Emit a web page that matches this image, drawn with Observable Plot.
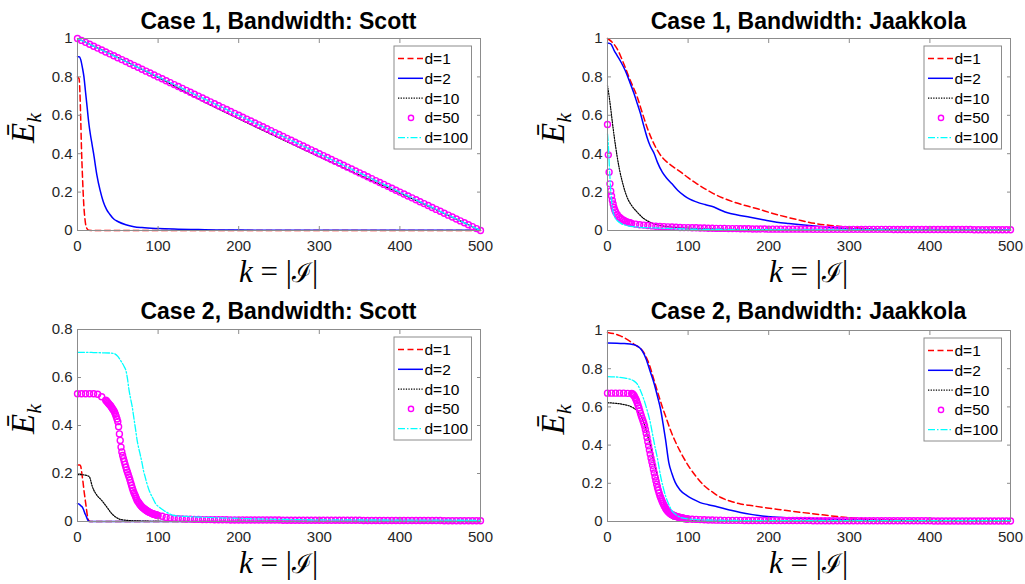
<!DOCTYPE html>
<html>
<head>
<meta charset="utf-8">
<script src="https://cdn.jsdelivr.net/npm/d3@7"></script>
<script src="https://cdn.jsdelivr.net/npm/@observablehq/plot@0.6"></script>
<style>
  body { margin: 0; background: #fff; }
  #fig { position: relative; width: 1025px; height: 584px; background: #fff; overflow: hidden; }
  .panel { position: absolute; }
</style>
</head>
<body>
<div id="fig"></div>
<script>
// ---------- labels ----------
const titles = [
  "Case 1, Bandwidth: Scott",
  "Case 1, Bandwidth: Jaakkola",
  "Case 2, Bandwidth: Scott",
  "Case 2, Bandwidth: Jaakkola"
];
const seriesNames = ["d=1", "d=2", "d=10", "d=50", "d=100"];
const xTicks = [0, 100, 200, 300, 400, 500];
const yTicksUnit = [0, 0.2, 0.4, 0.6, 0.8, 1];
const yTicksCase2Scott = [0, 0.2, 0.4, 0.6, 0.8];

// ---------- Case 1, Scott : [k, E_k] ----------
const c1ScottD1 = [[0,0.8],[2,0.79],[3,0.72],[4,0.58],[5,0.42],[6,0.3],[7,0.2],[8,0.12],[9,0.07],[10,0.035],[12,0.008],[14,0.001],[20,0],[100,0],[200,0],[300,0],[400,0],[500,0]];
const c1ScottD2 = [[0,0.905],[2,0.905],[4,0.89],[6,0.85],[8,0.8],[10,0.72],[12,0.64],[14,0.56],[16,0.5],[18,0.45],[20,0.4],[24,0.29],[28,0.21],[32,0.15],[36,0.11],[40,0.085],[45,0.06],[50,0.047],[60,0.03],[70,0.02],[80,0.015],[100,0.01],[125,0.007],[150,0.005],[200,0.002],[300,0.001],[400,0.001],[500,0.001]];
const c1ScottD10 = [[0,1],[100,0.797],[150,0.685],[200,0.582],[250,0.482],[300,0.384],[350,0.288],[400,0.194],[450,0.098],[500,0]];
const c1ScottD100 = [[0,1],[500,0]];
const c1ScottD50k = d3.range(0, 501, 5);
const c1ScottD50 = [
  1.00,0.99,0.98,0.97,0.96,0.95,0.94,0.93,0.92,0.91,
  0.90,0.89,0.88,0.87,0.86,0.85,0.84,0.83,0.82,0.81,
  0.80,0.79,0.78,0.77,0.76,0.75,0.74,0.73,0.72,0.71,
  0.70,0.69,0.68,0.67,0.66,0.65,0.64,0.63,0.62,0.61,
  0.60,0.59,0.58,0.57,0.56,0.55,0.54,0.53,0.52,0.51,
  0.50,0.49,0.48,0.47,0.46,0.45,0.44,0.43,0.42,0.41,
  0.40,0.39,0.38,0.37,0.36,0.35,0.34,0.33,0.32,0.31,
  0.30,0.29,0.28,0.27,0.26,0.25,0.24,0.23,0.22,0.21,
  0.20,0.19,0.18,0.17,0.16,0.15,0.14,0.13,0.12,0.11,
  0.10,0.09,0.08,0.07,0.06,0.05,0.04,0.03,0.02,0.01,
  0.00
];

// ---------- Case 1, Jaakkola ----------
const c1JaakD1 = [[0,1],[6,0.98],[12,0.946],[20,0.87],[28,0.785],[37,0.694],[43,0.615],[49,0.538],[55,0.475],[62,0.417],[68,0.38],[74,0.356],[82,0.33],[91,0.304],[100,0.275],[111,0.243],[121,0.217],[132,0.191],[144,0.168],[157,0.148],[171,0.13],[186,0.113],[204,0.09],[223,0.069],[240,0.052],[260,0.035],[280,0.025],[300,0.017],[320,0.01],[345,0.005],[400,0.003],[500,0.003]];
const c1JaakD2 = [[0,0.977],[4,0.972],[8,0.94],[12,0.911],[17,0.875],[22,0.833],[27,0.78],[33,0.712],[37,0.66],[41,0.608],[45,0.545],[49,0.486],[53,0.44],[58,0.4],[62,0.355],[68,0.304],[73,0.275],[80,0.243],[87,0.21],[95,0.182],[102,0.163],[111,0.148],[121,0.135],[132,0.122],[140,0.107],[149,0.092],[160,0.082],[177,0.069],[193,0.056],[210,0.043],[225,0.036],[240,0.03],[264,0.021],[290,0.012],[320,0.006],[400,0.003],[500,0.002]];
const c1JaakD10 = [[0,0.755],[2,0.7],[4,0.635],[6,0.565],[8,0.5],[10,0.44],[12,0.385],[15,0.315],[18,0.26],[22,0.2],[26,0.157],[30,0.13],[37,0.095],[45,0.062],[53,0.043],[66,0.026],[80,0.018],[100,0.012],[130,0.008],[170,0.005],[220,0.003],[300,0.001],[500,0]];
const c1JaakD100 = [[0,0.503],[1,0.45],[2,0.36],[3,0.28],[4,0.21],[5,0.16],[6,0.12],[7,0.095],[9,0.07],[12,0.052],[17,0.036],[24,0.026],[35,0.019],[53,0.014],[80,0.01],[120,0.006],[200,0.004],[300,0.003],[500,0.002]];
const c1JaakD50k = [...d3.range(0, 11, 1), ...d3.range(12, 31, 2), ...d3.range(35, 501, 5)];
const c1JaakD50 = [
  0.552,0.394,0.304,0.243,0.205,0.18,0.157,0.138,0.12,0.107,0.097,
  0.083,0.072,0.065,0.058,0.053,0.049,0.045,0.042,0.04,0.037,
  0.033,0.03,0.028,0.026,0.024,0.022,0.021,0.02,0.019,0.018,
  0.017,0.016,0.015,0.015,0.014,0.014,0.013,0.013,0.012,0.012,
  0.011,0.011,0.011,0.01,
  0.01,0.01,0.009,0.009,0.009,0.008,0.008,0.008,0.008,0.007,
  0.007,0.007,0.007,0.007,0.007,0.007,0.007,0.007,0.007,0.007,
  0.006,0.006,0.006,0.006,0.006,0.006,0.006,0.006,0.006,0.006,
  0.006,0.006,0.006,0.006,0.006,0.006,0.006,0.006,0.006,0.006,
  0.005,0.005,0.005,0.005,0.005,0.005,0.005,0.005,0.005,0.005,
  0.005,0.005,0.005,0.005,0.005,0.005,0.005,0.005,0.005,0.005,
  0.004,0.004,0.004,0.004,0.004,0.004,0.004,0.004,0.004,0.004
];

// ---------- Case 2, Scott ----------
const c2ScottD1 = [[0,0.235],[3,0.235],[4,0.23],[5,0.21],[6,0.185],[7,0.16],[8,0.13],[9,0.105],[10,0.08],[11,0.055],[12,0.03],[13,0.012],[14,0.004],[15,0.001],[16,0],[100,0],[200,0],[300,0],[400,0],[500,0]];
const c2ScottD2 = [[0,0.075],[2,0.072],[4,0.066],[6,0.06],[7,0.053],[8,0.045],[9,0.035],[10,0.028],[11,0.02],[12,0.012],[13,0.005],[14,0.001],[15,0],[100,0],[200,0],[300,0],[400,0],[500,0]];
const c2ScottD10 = [[0,0.195],[5,0.195],[10,0.193],[13,0.19],[15,0.185],[16,0.175],[18,0.15],[20,0.132],[22,0.12],[25,0.105],[28,0.095],[30,0.088],[33,0.075],[36,0.062],[39,0.048],[42,0.035],[45,0.025],[48,0.017],[52,0.01],[58,0.006],[65,0.004],[80,0.002],[110,0],[500,0]];
const c2ScottD100 = [[0,0.705],[10,0.705],[20,0.704],[30,0.703],[40,0.702],[45,0.7],[50,0.688],[54,0.668],[58,0.645],[60,0.63],[62,0.595],[64,0.546],[66,0.51],[68,0.476],[70,0.43],[72,0.385],[74,0.338],[76,0.305],[78,0.276],[80,0.245],[82,0.21],[84,0.185],[86,0.16],[88,0.138],[90,0.12],[93,0.1],[97,0.074],[102,0.058],[107,0.046],[113,0.034],[120,0.025],[135,0.021],[153,0.018],[200,0.013],[235,0.01],[300,0.007],[400,0.006],[500,0.005]];
const c2ScottD50k = [...d3.range(0, 36, 5), ...d3.range(36, 101, 1), ...d3.range(105, 501, 5)];
const c2ScottD50 = [
  0.532,0.532,0.532,0.532,0.532,0.53,0.52,0.505,
  0.502,0.498,0.494,0.49,0.486,0.482,0.477,0.472,0.467,0.462,
  0.455,0.447,0.438,0.427,0.416,0.395,0.365,0.338,0.31,0.29,
  0.275,0.262,0.25,0.238,0.226,0.215,0.205,0.195,0.185,0.174,
  0.162,0.151,0.14,0.129,0.12,0.112,0.104,0.096,0.088,0.083,
  0.078,0.073,0.069,0.065,0.061,0.058,0.055,0.052,0.05,0.047,
  0.045,0.043,0.041,0.039,0.037,0.036,0.034,0.032,0.031,0.03,
  0.029,0.028,0.027,0.026,0.025,
  0.022,0.017,0.015,0.013,0.012,0.011,0.01,0.01,0.009,0.009,
  0.008,0.008,0.008,0.007,0.007,0.007,0.007,0.006,0.006,0.006,
  0.006,0.006,0.006,0.006,0.006,0.006,0.006,0.006,0.006,0.006,
  0.005,0.005,0.005,0.005,0.005,0.005,0.005,0.005,0.005,0.005,
  0.005,0.005,0.005,0.005,0.005,0.005,0.005,0.005,0.005,0.005,
  0.004,0.004,0.004,0.004,0.004,0.004,0.004,0.004,0.004,0.004,
  0.004,0.004,0.004,0.004,0.004,0.004,0.004,0.004,0.004,0.004,
  0.003,0.003,0.003,0.003,0.003,0.003,0.003,0.003,0.003,0.003
];

// ---------- Case 2, Jaakkola ----------
const c2JaakD1 = [[0,0.99],[16,0.972],[33,0.928],[45,0.885],[52,0.82],[57,0.75],[62,0.68],[68,0.6],[73,0.54],[78,0.48],[84,0.42],[91,0.36],[97,0.315],[103,0.275],[111,0.23],[120,0.187],[130,0.155],[140,0.127],[152,0.107],[165,0.092],[180,0.082],[198,0.071],[220,0.059],[240,0.048],[264,0.036],[290,0.024],[310,0.017],[330,0.011],[400,0.005],[500,0.003]];
const c2JaakD2 = [[0,0.935],[20,0.932],[33,0.925],[43,0.894],[48,0.85],[53,0.785],[58,0.72],[62,0.655],[66,0.585],[69,0.51],[72,0.43],[76,0.31],[80,0.25],[84,0.205],[90,0.165],[99,0.134],[107,0.115],[115,0.099],[125,0.088],[136,0.077],[150,0.062],[165,0.047],[180,0.036],[198,0.026],[220,0.02],[240,0.017],[300,0.009],[400,0.004],[500,0.003]];
const c2JaakD10 = [[0,0.622],[24,0.609],[32,0.595],[37,0.579],[41,0.555],[45,0.518],[49,0.46],[53,0.4],[56,0.345],[59,0.29],[62,0.24],[66,0.169],[69,0.115],[72,0.065],[75,0.04],[78,0.022],[85,0.01],[100,0.004],[150,0.002],[500,0.002]];
const c2JaakD100 = [[0,0.759],[20,0.752],[28,0.745],[33,0.735],[37,0.719],[41,0.685],[45,0.64],[49,0.585],[53,0.52],[56,0.455],[59,0.39],[62,0.33],[66,0.235],[69,0.18],[72,0.134],[76,0.09],[80,0.056],[85,0.035],[91,0.021],[100,0.014],[115,0.009],[150,0.006],[200,0.004],[500,0.004]];
const c2JaakD50k = [...d3.range(0, 31, 5), ...d3.range(31, 101, 1), ...d3.range(105, 501, 5)];
const c2JaakD50 = [
  0.672,0.672,0.672,0.672,0.672,0.671,0.67,
  0.668,0.664,0.658,0.65,0.641,0.632,0.62,0.607,0.594,0.58,
  0.566,0.553,0.54,0.528,0.515,0.5,0.482,0.462,0.44,0.418,
  0.396,0.375,0.353,0.332,0.313,0.294,0.274,0.254,0.233,0.213,
  0.195,0.178,0.163,0.149,0.135,0.125,0.114,0.104,0.094,0.085,
  0.077,0.07,0.063,0.057,0.052,0.048,0.044,0.041,0.038,0.036,
  0.034,0.032,0.03,0.028,0.027,0.026,0.024,0.023,0.022,0.021,
  0.02,0.019,0.018,0.017,0.016,0.015,0.014,0.014,0.013,0.013,
  0.012,0.011,0.01,0.009,0.008,0.008,0.007,0.007,0.006,0.006,
  0.006,0.006,0.006,0.005,0.005,0.005,0.005,0.005,0.005,0.005,
  0.005,0.005,0.005,0.005,0.005,0.005,0.005,0.005,0.005,0.005,
  0.004,0.004,0.004,0.004,0.004,0.004,0.004,0.004,0.004,0.004,
  0.004,0.004,0.004,0.004,0.004,0.004,0.004,0.004,0.004,0.004,
  0.004,0.004,0.004,0.004,0.004,0.004,0.004,0.004,0.004,0.004,
  0.003,0.003,0.003,0.003,0.003,0.003,0.003,0.003,0.003,0.003,
  0.003,0.003,0.003,0.003,0.003,0.003,0.003,0.003,0.003,0.003
];

// ---------- styling ----------
const lineStyles = [
  {stroke: "#ff0000", strokeWidth: 1.5, strokeDasharray: "6,3.5"},
  {stroke: "#0000ff", strokeWidth: 1.5, strokeDasharray: null},
  {stroke: "#000000", strokeWidth: 1.2, strokeDasharray: "1.3,1.3"},
  null, // d=50 drawn as circles
  {stroke: "#00ffff", strokeWidth: 1.3, strokeDasharray: "7,2,1.5,2"}
];
const markerStyle = {stroke: "#ff00ff", strokeWidth: 1.4, r: 3};
const frameGray = "#8c8c8c";
const tickText = "#262626";
const sansFont = "'Liberation Sans', Arial, Helvetica, sans-serif";
const serifFont = "'Liberation Serif', 'DejaVu Serif', 'Times New Roman', serif";

const pairsToRows = pairs => pairs.map(([k, v]) => ({k, v}));
const zipRows = (ks, vs) => ks.map((k, i) => ({k, v: vs[i]}));

const panels = [
  {title: titles[0], left: 0, top: 0, width: 512, height: 290, margin: [38, 32, 60, 77],
   yDomain: [0, 1], yTicks: yTicksUnit,
   lines: [c1ScottD1, c1ScottD2, c1ScottD10, null, c1ScottD100], dotsK: c1ScottD50k, dotsV: c1ScottD50},
  {title: titles[1], left: 512, top: 0, width: 513, height: 290, margin: [38, 15, 60, 95],
   yDomain: [0, 1], yTicks: yTicksUnit,
   lines: [c1JaakD1, c1JaakD2, c1JaakD10, null, c1JaakD100], dotsK: c1JaakD50k, dotsV: c1JaakD50},
  {title: titles[2], left: 0, top: 290, width: 512, height: 294, margin: [39, 32, 63, 77],
   yDomain: [0, 0.8], yTicks: yTicksCase2Scott,
   lines: [c2ScottD1, c2ScottD2, c2ScottD10, null, c2ScottD100], dotsK: c2ScottD50k, dotsV: c2ScottD50},
  {title: titles[3], left: 512, top: 290, width: 513, height: 294, margin: [40, 15, 63, 95],
   yDomain: [0, 1], yTicks: yTicksUnit,
   lines: [c2JaakD1, c2JaakD2, c2JaakD10, null, c2JaakD100], dotsK: c2JaakD50k, dotsV: c2JaakD50}
];

const fig = document.getElementById("fig");

function drawPanel(p) {
  const [mt, mr, mb, ml] = p.margin;
  const marks = [];
  p.lines.forEach((series, i) => {
    if (i === 3) {
      marks.push(Plot.dot(zipRows(p.dotsK, p.dotsV), {
        x: "k", y: "v", r: markerStyle.r, fill: "none",
        stroke: markerStyle.stroke, strokeWidth: markerStyle.strokeWidth
      }));
    } else {
      const st = lineStyles[i];
      marks.push(Plot.line(pairsToRows(series), {
        x: "k", y: "v", curve: "monotone-x",
        stroke: st.stroke, strokeWidth: st.strokeWidth, strokeDasharray: st.strokeDasharray
      }));
    }
  });

  const svg = Plot.plot({
    width: p.width, height: p.height,
    marginTop: mt, marginRight: mr, marginBottom: mb, marginLeft: ml,
    style: {fontFamily: sansFont, fontSize: "15px", background: "white", overflow: "visible", color: tickText},
    x: {domain: [0, 500], label: null},
    y: {domain: p.yDomain, label: null},
    marks: [
      ...marks,
      Plot.frame({stroke: frameGray}),
      Plot.axisX(xTicks, {anchor: "bottom", tickSize: -4, tickPadding: 14, stroke: frameGray, fill: tickText, label: null, tickFormat: d => String(d)}),
      Plot.axisX(xTicks, {anchor: "top", tickSize: -4, stroke: frameGray, label: null, tickFormat: () => ""}),
      Plot.axisY(p.yTicks, {anchor: "left", tickSize: -4, tickPadding: 9, stroke: frameGray, fill: tickText, label: null, tickFormat: d => String(d)}),
      Plot.axisY(p.yTicks, {anchor: "right", tickSize: -4, stroke: frameGray, label: null, tickFormat: () => ""})
    ]
  });

  const holder = document.createElement("div");
  holder.className = "panel";
  holder.style.left = p.left + "px";
  holder.style.top = p.top + "px";
  holder.appendChild(svg);
  fig.appendChild(holder);

  const s = d3.select(svg);
  const fx0 = ml, fx1 = p.width - mr, fy0 = mt, fy1 = p.height - mb;
  const cx = (fx0 + fx1) / 2;

  // title
  s.append("text")
    .attr("x", cx).attr("y", 29)
    .attr("text-anchor", "middle")
    .attr("font-family", sansFont).attr("font-weight", "bold").attr("font-size", 23)
    .attr("fill", "#000")
    .text(p.title);

  // x label: k = |I|
  const xl = s.append("text")
    .attr("x", cx).attr("y", fy1 + 52)
    .attr("text-anchor", "middle")
    .attr("font-family", serifFont).attr("font-size", 31)
    .attr("fill", "#000");
  xl.append("tspan").attr("font-style", "italic").text("k");
  xl.append("tspan").text(" = |");
  xl.append("tspan").attr("font-size", 27).text("ℐ");
  xl.append("tspan").text("|");

  // y label: mean E_k
  const yl = s.append("text")
    .attr("transform", `translate(${fx0 - 43},${(fy0 + fy1) / 2 - 6}) rotate(-90)`)
    .attr("text-anchor", "middle")
    .attr("font-family", serifFont).attr("font-size", 33)
    .attr("fill", "#000");
  yl.append("tspan").attr("font-style", "italic").text("Ē");
  yl.append("tspan").attr("font-style", "italic").attr("font-size", 22).attr("dy", 7).text("k");

  // legend
  const lx = fx1 - 86, ly = fy0 + 8, lw = 77.5, lh = 103;
  const lg = s.append("g");
  lg.append("rect").attr("x", lx).attr("y", ly).attr("width", lw).attr("height", lh)
    .attr("fill", "#fff").attr("stroke", frameGray).attr("stroke-width", 1);
  seriesNames.forEach((name, i) => {
    const y = ly + 12.5 + i * 19.8;
    if (i === 3) {
      lg.append("circle").attr("cx", lx + 17).attr("cy", y).attr("r", 2.6)
        .attr("fill", "none").attr("stroke", markerStyle.stroke).attr("stroke-width", markerStyle.strokeWidth);
    } else {
      const st = lineStyles[i];
      lg.append("line").attr("x1", lx + 4).attr("x2", lx + 29).attr("y1", y).attr("y2", y)
        .attr("stroke", st.stroke).attr("stroke-width", st.strokeWidth)
        .attr("stroke-dasharray", st.strokeDasharray);
    }
    lg.append("text").attr("x", lx + 30.5).attr("y", y).attr("dy", "0.36em")
      .attr("text-anchor", "start")
      .attr("font-family", sansFont).attr("font-size", 15.5).attr("fill", "#000")
      .text(name);
  });
}

panels.forEach(drawPanel);
</script>
</body>
</html>
